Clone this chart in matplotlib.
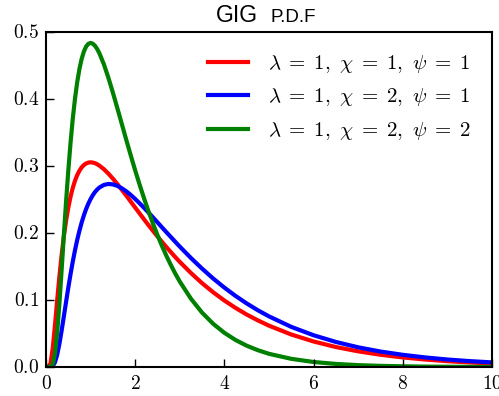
import matplotlib
matplotlib.use("Agg")
import matplotlib.pyplot as plt

plt.style.use("classic")
plt.rcParams["mathtext.fontset"] = "cm"

# sample points along x and density readings for each parameter set
x = [0, 0.05, 0.1, 0.15, 0.2, 0.25, 0.3, 0.35, 0.4, 0.45, 0.5, 0.55, 0.6,
     0.65, 0.7, 0.75, 0.8, 0.85, 0.9, 0.95, 1.0, 1.05, 1.1, 1.15, 1.2,
     1.3, 1.4, 1.5, 1.6, 1.7, 1.8, 1.9, 2.0, 2.1, 2.2, 2.3, 2.4, 2.5, 2.6,
     2.7, 2.8, 2.9, 3.0, 3.25, 3.5, 3.75, 4.0, 4.25, 4.5, 4.75, 5.0,
     5.5, 6.0, 6.5, 7.0, 7.5, 8.0, 8.5, 9.0, 9.5, 10.0]
red = [0, 0, 0.0053, 0.0275, 0.0617, 0.0992, 0.1350, 0.1671, 0.1949, 0.2184,
       0.2380, 0.2542, 0.2675, 0.2781, 0.2866, 0.2931, 0.2981, 0.3016, 0.3039,
       0.3052, 0.3056, 0.3052, 0.3042, 0.3026, 0.3005,
       0.2952, 0.2886, 0.2812, 0.2731, 0.2646, 0.2559, 0.2469, 0.2380, 0.2291,
       0.2203, 0.2116, 0.2031, 0.1949, 0.1868, 0.1790, 0.1714, 0.1640, 0.1569,
       0.1403, 0.1251, 0.1115, 0.0992, 0.0882, 0.0783, 0.0696, 0.0617,
       0.0485, 0.0381, 0.0298, 0.0234, 0.0183, 0.0143, 0.0112, 0.0087, 0.0068,
       0.0053]
blue = [0, 0, 0.0000, 0.0013, 0.0069, 0.0182, 0.0345, 0.0542, 0.0756, 0.0973,
        0.1185, 0.1386, 0.1573, 0.1744, 0.1899, 0.2036, 0.2159, 0.2266, 0.2360,
        0.2440, 0.2508, 0.2566, 0.2614, 0.2651, 0.2681,
        0.2719, 0.2733, 0.2726, 0.2704, 0.2668, 0.2623, 0.2569, 0.2508, 0.2443,
        0.2375, 0.2304, 0.2232, 0.2159, 0.2085, 0.2012, 0.1940, 0.1868, 0.1797,
        0.1627, 0.1468, 0.1320, 0.1185, 0.1061, 0.0949, 0.0847, 0.0756,
        0.0599, 0.0474, 0.0374, 0.0294, 0.0231, 0.0182, 0.0143, 0.0112, 0.0088,
        0.0069]
green = [0, 0, 0.0002, 0.0039, 0.0197, 0.0510, 0.0944, 0.1447, 0.1967, 0.2470,
         0.2934, 0.3347, 0.3706, 0.4007, 0.4254, 0.4451, 0.4602, 0.4711, 0.4785,
         0.4825, 0.4838, 0.4826, 0.4794, 0.4744, 0.4679,
         0.4515, 0.4315, 0.4095, 0.3863, 0.3627, 0.3390, 0.3159, 0.2934, 0.2719,
         0.2514, 0.2320, 0.2138, 0.1967, 0.1808, 0.1659, 0.1521, 0.1393, 0.1275,
         0.1019, 0.0811, 0.0644, 0.0510, 0.0403, 0.0318, 0.0251, 0.0197,
         0.0122, 0.0075, 0.0046, 0.0028, 0.0017, 0.0011, 0.0006, 0.0004, 0.0002,
         0.0001]
labels = [r"$\lambda \;=\; 1,\ \chi \;=\; 1,\ \psi \;=\; 1$",
          r"$\lambda \;=\; 1,\ \chi \;=\; 2,\ \psi \;=\; 1$",
          r"$\lambda \;=\; 1,\ \chi \;=\; 2,\ \psi \;=\; 2$"]
xticks = [0, 2, 4, 6, 8, 10]
yticks = [0.0, 0.1, 0.2, 0.3, 0.4, 0.5]

fig = plt.figure(figsize=(4.99, 3.96), dpi=100)
fig.patch.set_facecolor("white")
ax = fig.add_axes([0.0922, 0.0732, 0.8938, 0.8458])

for ys, c, lab in zip([red, blue, green], ["r", "b", "g"], labels):
    ax.plot(x, ys, color=c, lw=3, label=lab)

ax.set_xlim(0, 10)
ax.set_ylim(0, 0.5)
ax.set_xticks(xticks)
ax.set_yticks(yticks)
ax.set_xticklabels(["$%d$" % t for t in xticks], fontsize=14)
ax.set_yticklabels(["$%.1f$" % t for t in yticks], fontsize=14)
ax.tick_params(top=False, right=False, direction="in", length=6, width=1)
ax.tick_params(axis="x", pad=5)
ax.tick_params(axis="y", pad=5)
for s in ax.spines.values():
    s.set_linewidth(1.5)

leg = ax.legend(loc="upper right", frameon=False, fontsize=15,
                handlelength=2.55, handletextpad=0.65, labelspacing=0.55,
                borderaxespad=0.6)

# title with small caps tail
fig.text(216 / 499, 1 - 22 / 396, "GIG", fontsize=16.5, family="Liberation Sans",
         ha="left", va="baseline")
fig.text(270 / 499, 1 - 22 / 396, "P.D.F", fontsize=13.5, family="Liberation Sans",
         ha="left", va="baseline")

fig.savefig("out.png", dpi=100, facecolor="white")
